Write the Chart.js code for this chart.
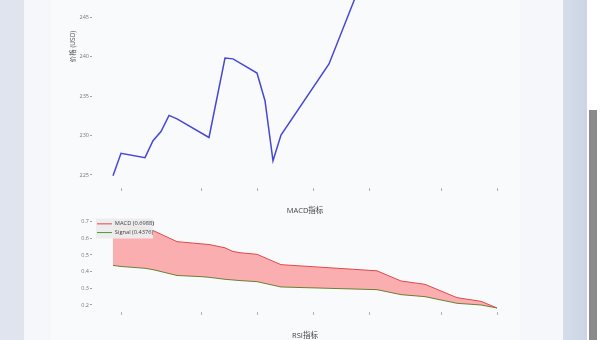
<!DOCTYPE html>
<html><head><meta charset="utf-8">
<script src="https://cdn.jsdelivr.net/npm/chart.js@4/dist/chart.umd.min.js"></script>
<style>
html,body{margin:0;padding:0;width:600px;height:340px;overflow:hidden;}
body{position:relative;background:#dfe4ee;font-family:"Open Sans","Noto Sans CJK SC",sans-serif;}
#card{position:absolute;left:24px;top:0;width:539px;height:340px;background:#f6f7fa;}
#inner{position:absolute;left:51px;top:0;width:469px;height:340px;background:#f9fafc;}
#rband{position:absolute;left:563px;top:0;width:24px;height:340px;background:linear-gradient(90deg,#d6dde9,#ccd5e5);}
#sb{position:absolute;left:587px;top:0;width:13px;height:340px;background:#ffffff;}
#thumb{position:absolute;left:589px;top:110px;width:8px;height:230px;background:#8b8b8b;}
canvas{position:absolute;}
#rsi{position:absolute;left:97px;width:416px;top:330px;height:10px;line-height:10px;text-align:center;font-size:7.5px;color:#444;font-family:"Open Sans","Noto Sans CJK SC",sans-serif;}
</style></head>
<body>
<div id="card"></div><div id="inner"></div><div id="rband"></div><div id="sb"></div><div id="thumb"></div>
<canvas id="c1" width="600" height="320" style="left:0;top:-120px;width:600px;height:320px"></canvas>
<canvas id="c2" width="600" height="130" style="left:0;top:195px;width:600px;height:130px"></canvas>
<div id="rsi">RSI指标</div>
<script>
// ---- data ----
const xTickDays = [1, 11, 18, 25, 32, 41, 48];
const priceDays = [0, 1, 4, 5, 6, 7, 8, 12, 14, 15, 18, 19, 20, 21, 27, 31];
const priceValues = [224.9, 227.75, 227.2, 229.35, 230.5, 232.55, 232.1, 229.75, 239.8, 239.7, 237.9, 234.4, 226.8, 230.05, 239.05, 249.3];
const priceTicks = [225, 230, 235, 240, 245, 250, 255];
const macdDays = [0, 1, 4, 5, 8, 11, 12, 14, 15, 16, 18, 21, 33, 36, 39, 43, 46, 48];
const macdValues = [0.6988, 0.69, 0.66, 0.647, 0.58, 0.567, 0.563, 0.543, 0.521, 0.513, 0.504, 0.442, 0.405, 0.344, 0.324, 0.244, 0.222, 0.182];
const signalValues = [0.4376, 0.431, 0.42, 0.412, 0.377, 0.37, 0.366, 0.354, 0.35, 0.346, 0.34, 0.308, 0.292, 0.262, 0.25, 0.21, 0.2, 0.182];
const macdTicks = [0.2, 0.3, 0.4, 0.5, 0.6, 0.7];

const FONT = '"Open Sans","Noto Sans CJK SC",sans-serif';
Chart.defaults.font.family = FONT;

function xScale(h) {
  return {
    type: 'linear', min: -2, max: 50,
    afterBuildTicks: s => { s.ticks = xTickDays.map(v => ({value: v})); },
    afterFit: s => { s.height = h; },
    ticks: {display: false},
    grid: {drawOnChartArea: false, drawTicks: true, tickLength: 3, tickColor: '#b0b0b0', tickWidth: 1},
    border: {display: false}
  };
}
function yScale(ticks, min, max, width, fmt, title) {
  return {
    type: 'linear', min: min, max: max,
    afterBuildTicks: s => { s.ticks = ticks.map(v => ({value: v})); },
    afterFit: s => { s.width = width; },
    ticks: {padding: 1, color: '#777', font: {size: 5.5, family: FONT}, callback: fmt},
    grid: {drawOnChartArea: false, drawTicks: true, tickLength: 7, tickColor: '#a0a0a0', tickBorderDash: [2, 20]},
    border: {display: false},
    title: title || {display: false}
  };
}

// ---- price chart ----
new Chart(document.getElementById('c1'), {
  type: 'line',
  data: {datasets: [{
    data: priceDays.map((d, i) => ({x: d, y: priceValues[i]})),
    borderColor: '#4747d6', borderWidth: 1.5, pointRadius: 0, fill: false, tension: 0
  }]},
  options: {
    responsive: false, animation: false, devicePixelRatio: 1,
    layout: {padding: {left: 65.4, right: 87, top: 25, bottom: 0}},
    plugins: {legend: {display: false}, tooltip: {enabled: false}},
    scales: {
      x: xScale(12),
      y: yScale(priceTicks, 223.354, 259.18, 31.6, v => String(v),
        {display: true, text: '价格 (USD)', color: '#555', font: {size: 6.5, family: FONT}, padding: {top: 4, bottom: 0}})
    }
  }
});

// ---- MACD chart ----
const legendBg = {
  id: 'legendBg',
  afterLayout(chart) {
    const lg = chart.legend, a = chart.chartArea;
    if (lg) { lg.left = a.left - 3; lg.top = a.top; }
  },
  afterDraw(chart) {
    const a = chart.chartArea, ctx = chart.ctx;
    ctx.save();
    ctx.fillStyle = 'rgba(236,236,238,0.96)';
    ctx.fillRect(a.left - 1, a.top + 0.5, 57, 20);
    ctx.restore();
    chart.legend.draw();
  }
};
new Chart(document.getElementById('c2'), {
  type: 'line',
  data: {datasets: [
    {label: 'MACD (' + macdValues[0] + ')', data: macdDays.map((d, i) => ({x: d, y: macdValues[i]})),
     borderColor: '#e04848', borderWidth: 1, pointRadius: 0, tension: 0,
     fill: '+1', backgroundColor: 'rgba(255,0,0,0.3)'},
    {label: 'Signal (' + signalValues[0] + ')', data: macdDays.map((d, i) => ({x: d, y: signalValues[i]})),
     borderColor: '#4f9a3a', borderWidth: 1, pointRadius: 0, tension: 0, fill: false}
  ]},
  options: {
    responsive: false, animation: false, devicePixelRatio: 1,
    layout: {padding: {left: 50, right: 87, top: 0, bottom: 0}},
    plugins: {
      tooltip: {enabled: false},
      title: {display: true, text: 'MACD指标', fullSize: false, color: '#444',
        font: {size: 7.5, family: FONT, weight: 'normal'}, padding: {top: 11.5, bottom: 2.5}},
      legend: {display: true, position: 'chartArea', align: 'start',
        labels: {usePointStyle: true, pointStyle: 'line', pointStyleWidth: 15, padding: 3,
          color: '#444', font: {size: 5.7, family: FONT}}}
    },
    scales: {
      x: xScale(13),
      y: yScale(macdTicks, 0.158, 0.7219, 47, v => v.toFixed(1))
    }
  },
  plugins: [legendBg]
});
</script>
</body></html>
